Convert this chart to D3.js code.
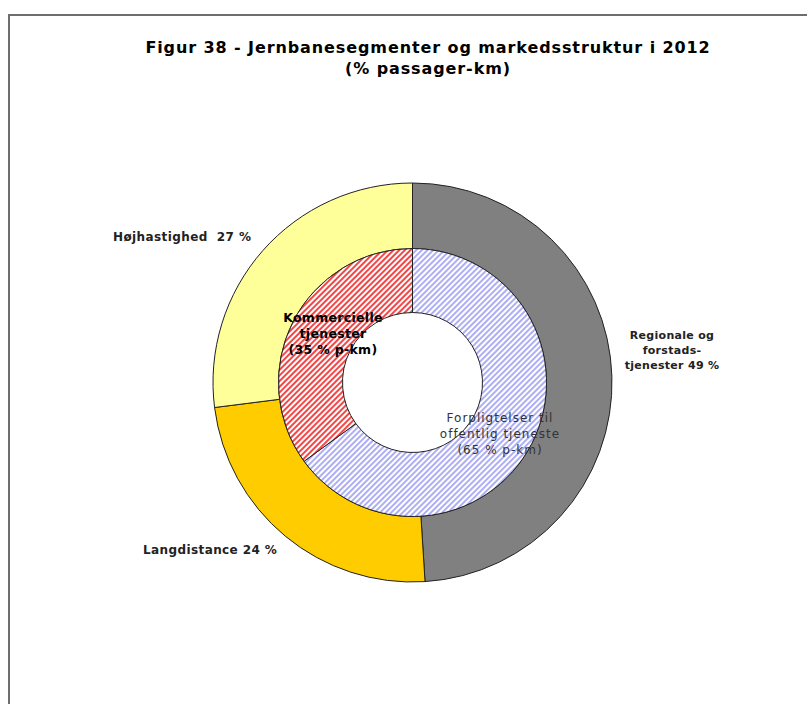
<!DOCTYPE html>
<html>
<head>
<meta charset="utf-8">
<script src="https://cdn.jsdelivr.net/npm/d3@7"></script>
<style>
  body { margin: 0; background: #fff; }
  text { font-family: "DejaVu Sans", Verdana, sans-serif; white-space: pre; }
</style>
</head>
<body>
<div id="viz"></div>
<script>
// data
const titleLines = ['Figur 38 - Jernbanesegmenter og markedsstruktur i 2012', '(% passager-km)']
const outerCategories = ['Regionale og forstadstjenester', 'Langdistance', 'Højhastighed']
const outerValues = [49, 24, 27]
const outerLabelLines = [['Regionale og', 'forstads-', 'tjenester 49 %'], ['Langdistance 24 %'], ['Højhastighed  27 %']]
const innerCategories = ['Forpligtelser til offentlig tjeneste', 'Kommercielle tjenester']
const innerValues = [65, 35]
const innerLabelLines = [['Forpligtelser til', 'offentlig tjeneste', '(65 % p-km)'], ['Kommercielle', 'tjenester', '(35 % p-km)']]

let width = 807,
    height = 704;

let cx = 412.5, cy = 382.5
let rOuter = 199.5, rMid = 134, rHole = 70

let svg = d3.select('#viz')
            .append('svg')
            .attr('width', width)
            .attr('height', height)

// patterns for the inner ring
let defs = svg.append('defs')
function hatch(id, color) {
  let p = defs.append('pattern')
              .attr('id', id)
              .attr('patternUnits', 'userSpaceOnUse')
              .attr('width', 4)
              .attr('height', 4)
              .attr('patternTransform', 'rotate(45)')
  p.append('rect').attr('width', 4).attr('height', 4).style('fill', '#fff')
  p.append('line')
   .attr('x1', 1).attr('y1', 0).attr('x2', 1).attr('y2', 4)
   .style('stroke', color)
   .style('stroke-width', 1.6)
}
hatch('hatchBlue', '#9a9af2')
hatch('hatchRed', '#f01818')

// frame
svg.append('rect')
   .attr('x', 9)
   .attr('y', 15)
   .attr('width', width)
   .attr('height', height)
   .style('fill', 'none')
   .style('stroke', '#6e6e6e')
   .style('stroke-width', 2)

// title
svg.append('text')
   .attr('x', 428)
   .attr('y', 53)
   .attr('text-anchor', 'middle')
   .style('font-size', '16px')
   .style('letter-spacing', '0.9px')
   .style('font-weight', 'bold')
   .selectAll('tspan')
   .data(titleLines)
   .enter()
     .append('tspan')
     .attr('x', 428)
     .attr('dy', (d, i) => i === 0 ? 0 : 21)
     .text(d => d)

let pie = d3.pie().sort(null).value(d => d)

let g = svg.append('g').attr('transform', `translate(${cx},${cy})`)

let outerColors = ['#808080', '#ffcc00', '#ffff99']
let outerArc = d3.arc().innerRadius(rMid).outerRadius(rOuter)
g.selectAll('path.outer')
 .data(pie(outerValues))
 .enter()
   .append('path')
   .attr('class', 'outer')
   .attr('d', outerArc)
   .style('fill', (d, i) => outerColors[i])
   .style('stroke', '#222')
   .style('stroke-width', 1)

let innerFills = ['url(#hatchBlue)', 'url(#hatchRed)']
let innerArc = d3.arc().innerRadius(rHole).outerRadius(rMid)
g.selectAll('path.inner')
 .data(pie(innerValues))
 .enter()
   .append('path')
   .attr('class', 'inner')
   .attr('d', innerArc)
   .style('fill', (d, i) => innerFills[i])
   .style('stroke', '#222')
   .style('stroke-width', 1)

// labels
function label(lines, x, y, opts) {
  let t = svg.append('text')
             .attr('x', x)
             .attr('y', y)
             .attr('text-anchor', opts.anchor || 'middle')
             .style('font-size', opts.size || '11px')
             .style('letter-spacing', opts.ls || '0px')
             .style('font-weight', opts.weight || 'bold')
             .style('fill', opts.color || '#222')
  t.selectAll('tspan')
   .data(lines)
   .enter()
     .append('tspan')
     .attr('x', x)
     .attr('dy', (d, i) => i === 0 ? 0 : (opts.lh || 15))
     .text(d => d)
}

label(outerLabelLines[0], 672, 339, { lh: 15, ls: '0.3px' })
label(outerLabelLines[1], 143, 554, { anchor: 'start', size: '12px', ls: '0.4px' })
label(outerLabelLines[2], 113, 241, { anchor: 'start', size: '12px', ls: '0.4px' })
label(innerLabelLines[0], 500, 422, { lh: 16, size: '12px', ls: '1px', weight: 'normal', color: '#333' })
label(innerLabelLines[1], 333, 322, { lh: 16, size: '12.5px', ls: '0.3px', color: '#000' })
</script>
</body>
</html>
